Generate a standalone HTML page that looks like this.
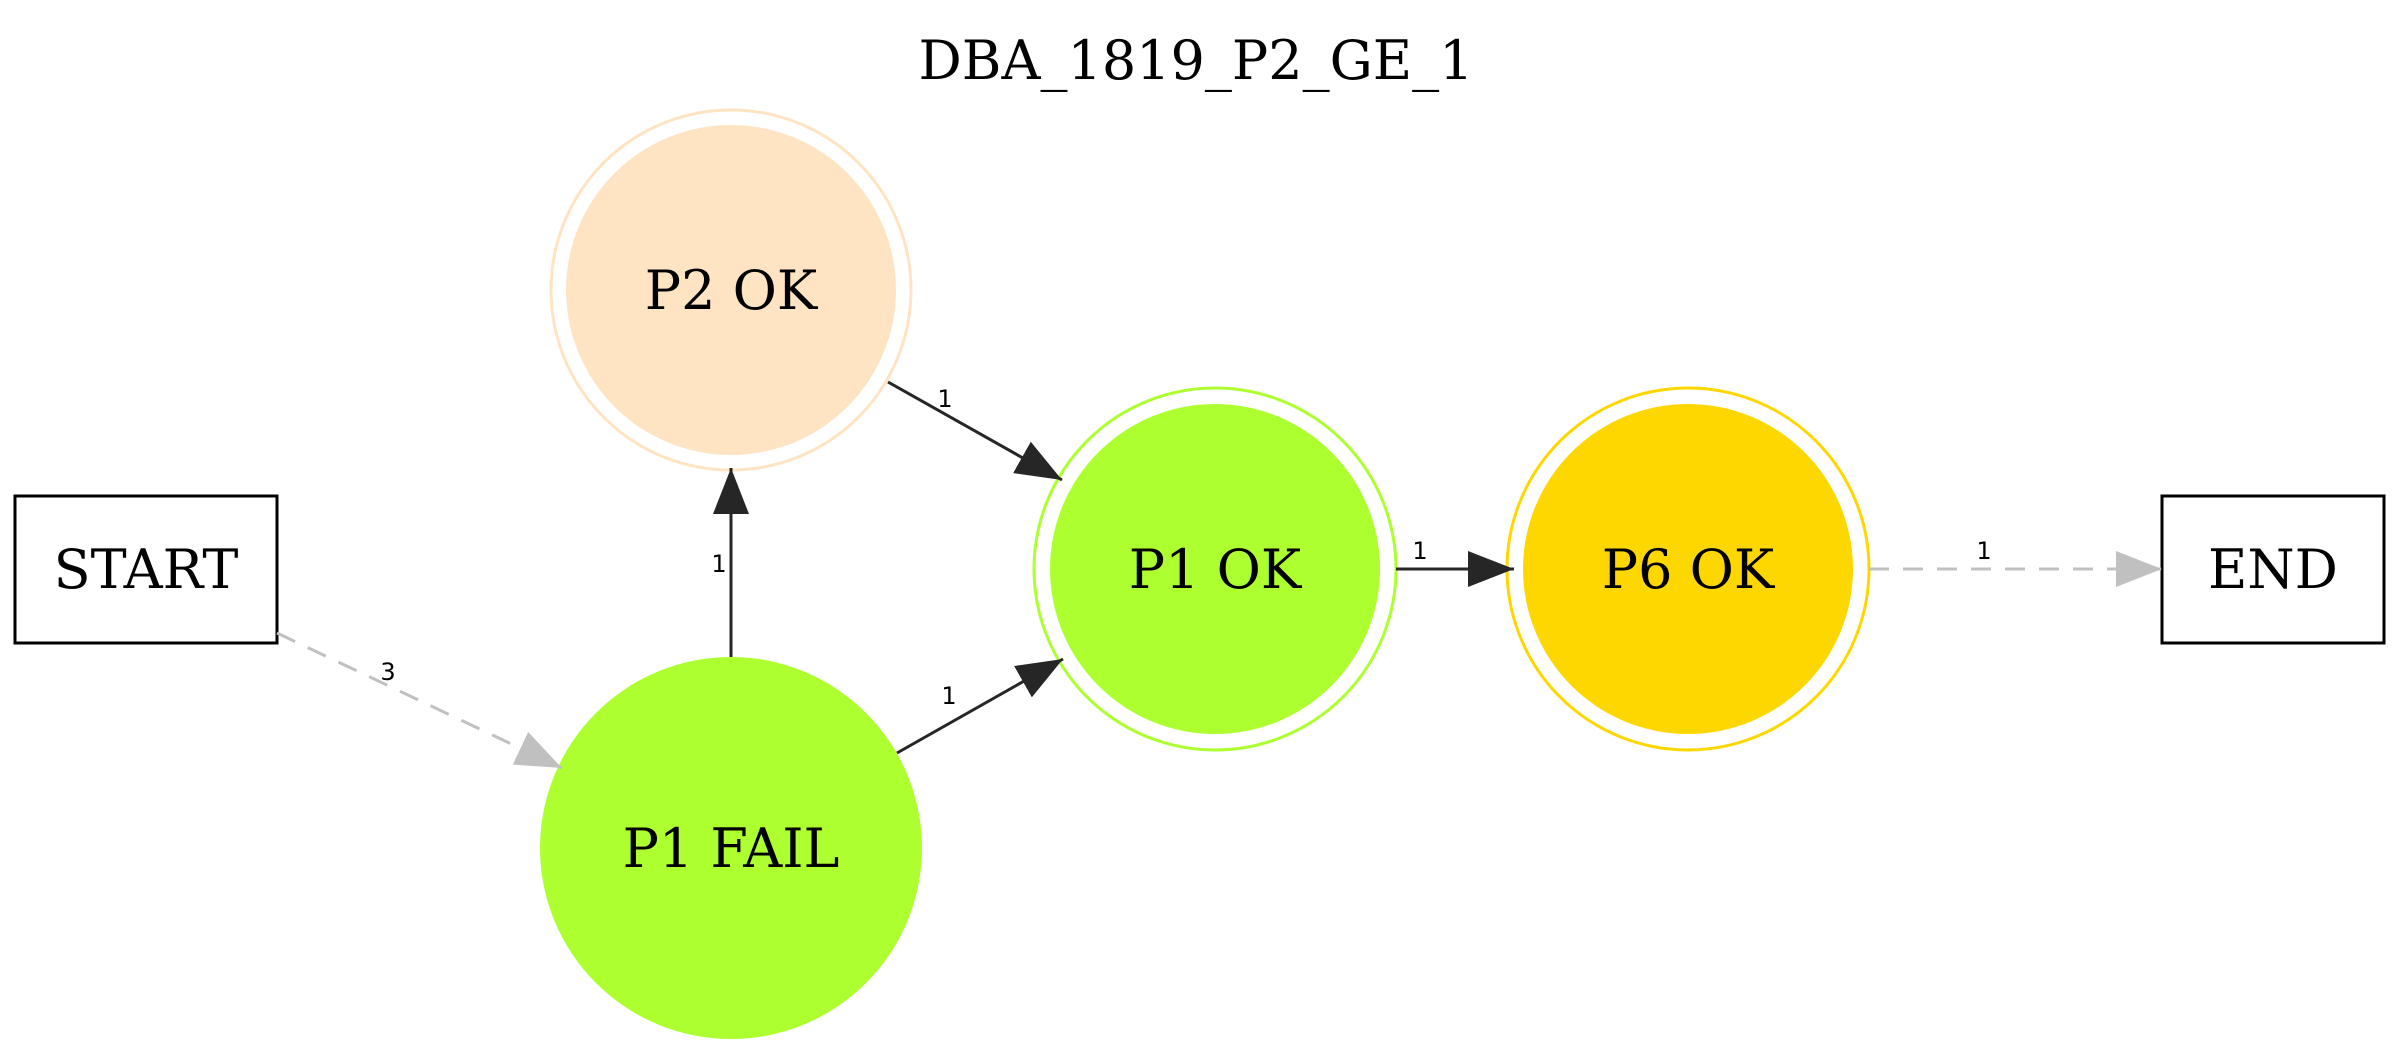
<!DOCTYPE html>
<html><head><meta charset="utf-8"><style>html,body{margin:0;padding:0;background:#fff;overflow:hidden}</style></head>
<body>
<svg width="2400" height="1056" viewBox="0 0 2400 1056" xmlns="http://www.w3.org/2000/svg">
<defs>
<marker id="ab" markerWidth="46" markerHeight="36" refX="46" refY="18" markerUnits="userSpaceOnUse" orient="auto"><path d="M0,0 L46,18 L0,36 z" fill="#262626"/></marker>
<marker id="ag" markerWidth="46" markerHeight="36" refX="46" refY="18" markerUnits="userSpaceOnUse" orient="auto"><path d="M0,0 L46,18 L0,36 z" fill="#c0c0c0"/></marker>
</defs>
<text x="1196" y="79" font-family="DejaVu Serif, serif" font-size="54" text-anchor="middle">DBA_1819_P2_GE_1</text>
<g font-family="DejaVu Serif, serif" font-size="54" text-anchor="middle">
<rect x="15" y="496" width="262" height="147" fill="#fff" stroke="#000" stroke-width="3"/>
<text x="146" y="588">START</text>
<rect x="2162" y="496" width="222" height="147" fill="#fff" stroke="#000" stroke-width="3"/>
<text x="2273" y="588">END</text>
<circle cx="731" cy="290" r="180" fill="none" stroke="#ffe4c4" stroke-width="3"/>
<circle cx="731" cy="290" r="165" fill="#ffe4c4"/>
<text x="731" y="309">P2 OK</text>
<circle cx="731" cy="848" r="191" fill="#adff2f"/>
<text x="731" y="867">P1 FAIL</text>
<circle cx="1215" cy="569" r="181" fill="none" stroke="#adff2f" stroke-width="3"/>
<circle cx="1215" cy="569" r="165" fill="#adff2f"/>
<text x="1215" y="588">P1 OK</text>
<circle cx="1688" cy="569" r="181" fill="none" stroke="#ffd700" stroke-width="3"/>
<circle cx="1688" cy="569" r="165" fill="#ffd700"/>
<text x="1688" y="588">P6 OK</text>
</g>
<g stroke-width="3" fill="none">
<line x1="888" y1="382" x2="1062" y2="480" stroke="#262626" marker-end="url(#ab)"/>
<line x1="731" y1="657" x2="731" y2="468" stroke="#262626" marker-end="url(#ab)"/>
<line x1="897" y1="753" x2="1063" y2="659" stroke="#262626" marker-end="url(#ab)"/>
<line x1="1396" y1="569" x2="1514" y2="569" stroke="#262626" marker-end="url(#ab)"/>
<line x1="277" y1="633" x2="562" y2="768" stroke="#c0c0c0" stroke-dasharray="20,14" marker-end="url(#ag)"/>
<line x1="1869" y1="569" x2="2162" y2="569" stroke="#c0c0c0" stroke-dasharray="20,14" marker-end="url(#ag)"/>
</g>
<g font-family="DejaVu Sans, sans-serif" font-size="24" text-anchor="middle">
<text x="945" y="407">1</text>
<text x="719" y="572">1</text>
<text x="949" y="704">1</text>
<text x="388" y="680">3</text>
<text x="1420" y="559">1</text>
<text x="1984" y="559">1</text>
</g>
</svg>
</body></html>
